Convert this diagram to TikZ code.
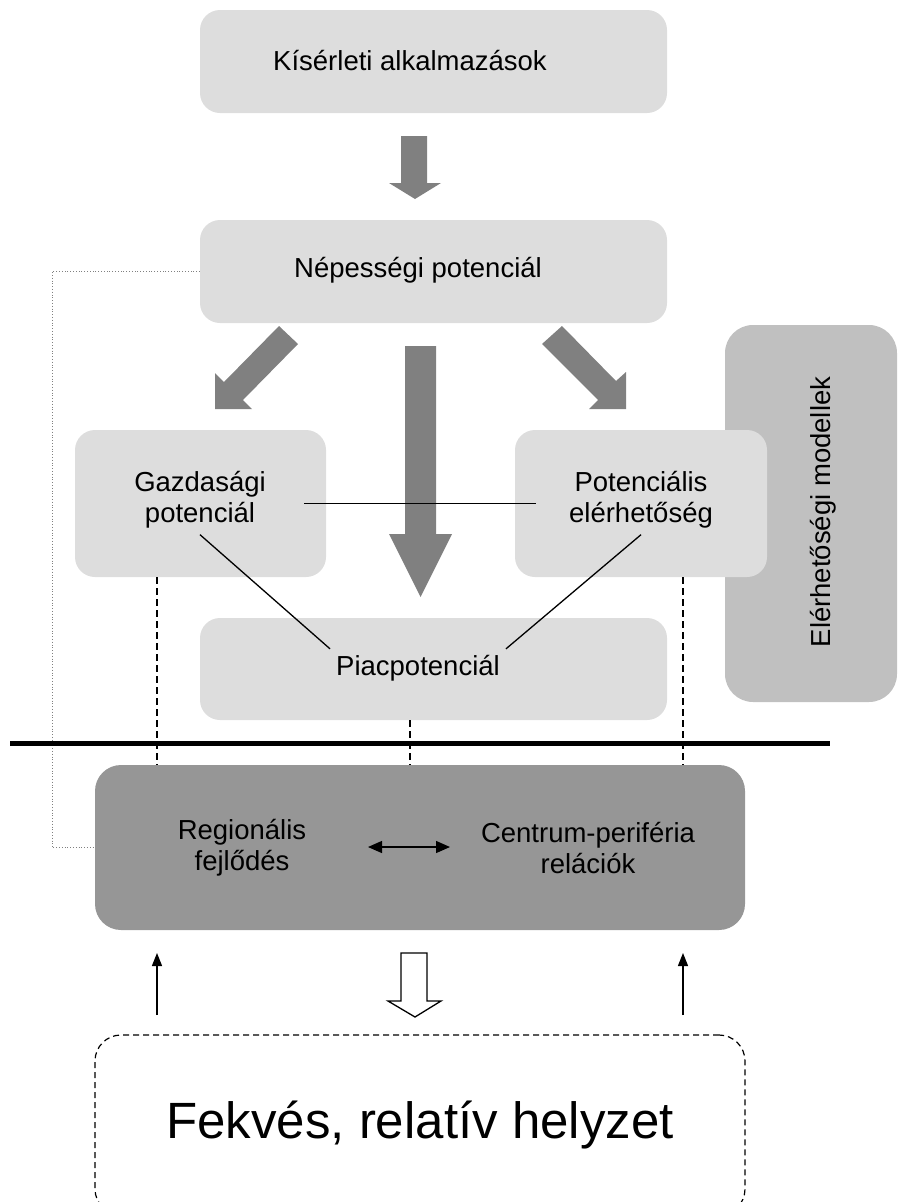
\documentclass[tikz,border=0pt]{standalone}
\usepackage{fontspec}
\setmainfont{Liberation Sans}
\usetikzlibrary{arrows.meta}

\definecolor{boxgray}{HTML}{DDDDDD}
\definecolor{sidegray}{HTML}{C0C0C0}
\definecolor{regiongray}{HTML}{969696}
\definecolor{arrowgray}{HTML}{808080}

\begin{document}
\begin{tikzpicture}[x=1pt,y=-1pt]
    % Node styles
    \tikzset{
        light box/.style={rectangle,rounded corners=20pt,fill=boxgray,inner sep=0pt},
        side box/.style={rectangle,rounded corners=28pt,fill=sidegray,inner sep=0pt},
        region box/.style={rectangle,rounded corners=26pt,fill=regiongray,inner sep=0pt},
        label text/.style={align=center,inner sep=6pt,font=\fontsize{27.5}{31}\selectfont},
        block arrow/.style={fill=arrowgray},
        thin link/.style={line width=1.3pt},
        drop line/.style={line width=1.3pt,dash pattern=on 7pt off 4pt},
        up arrow/.style={line width=1.3pt,-{Triangle[length=13pt,width=10pt]}}
    }
    \useasboundingbox (0,0) rectangle (902,1202);

    % --- Side box: accessibility models ---
    \node[side box, minimum width=172pt, minimum height=377pt] (elrbox) at (811,513.5) {};
    \node[label text, rotate=90] (elr) at (823,512) {Elérhetőségi modellek};

    % --- Top row ---
    \node[light box, minimum width=467pt, minimum height=103pt] (kisbox) at (433.5,61.5) {};
    \node[label text] (kis) at (410,61) {Kísérleti alkalmazások};
    \node[light box, minimum width=467pt, minimum height=103pt] (nepbox) at (433.5,271.5) {};
    \node[label text] (nep) at (418,270) {Népességi potenciál};

    % --- Middle row ---
    \node[light box, minimum width=251pt, minimum height=147pt] (gazbox) at (200.5,503.5) {};
    \node[label text] (gaz) at (200,500) {Gazdasági\\potenciál};
    \node[light box, minimum width=252pt, minimum height=147pt] (potbox) at (641,503.5) {};
    \node[label text] (pot) at (641,500) {Potenciális\\elérhetőség};
    \node[light box, minimum width=467pt, minimum height=102pt] (piacbox) at (433.5,669) {};
    \node[label text] (piac) at (418,668) {Piacpotenciál};

    % --- Region box ---
    \node[region box, minimum width=650pt, minimum height=165pt] (regbox) at (420,847.5) {};
    \node[label text] (reg) at (242,848) {Regionális\\fejlődés};
    \node[label text] (cen) at (588,848) {Centrum-periféria\\relációk};

    % --- Bottom: location ---
    \node[rectangle, rounded corners=26pt, draw, line width=1.2pt, dash pattern=on 6pt off 4pt,
          minimum width=650pt, minimum height=180pt, inner sep=0pt] (fekbox) at (420,1125) {};
    \node[font=\fontsize{51}{57}\selectfont] (fek) at (420,1125) {Fekvés, relatív helyzet};

    % Block arrows
    \fill[block arrow] (401,136) -- (427,136) -- (427,183) -- (441,183) -- (415,199)
        -- (389,183) -- (401,183) -- cycle;
    \fill[block arrow] (405,346) -- (436,346) -- (436,534) -- (452,534) -- (420.5,597)
        -- (389,534) -- (405,534) -- cycle;
    \fill[block arrow] (279,326) -- (298,344) -- (243,400) -- (252,409) -- (215,409)
        -- (215,373) -- (224,382) -- cycle;
    \fill[block arrow] (562,326) -- (616,381) -- (626,372) -- (626,409) -- (589,409)
        -- (598,400) -- (542,344) -- cycle;
    \draw[line width=1.3pt, fill=white, miter limit=10] (401,953) -- (427,953) -- (427,1001)
        -- (441,1001) -- (415,1017) -- (388,1001) -- (401,1001) -- cycle;

    % Links between the potentials
    \draw[thin link] ([xshift=-22pt]gazbox.east) -- ([xshift=21pt]potbox.west);
    \draw[thin link] (gaz.south) -- (piac.north west);
    \draw[thin link] (pot.south) -- (piac.north east);

    % Dotted feedback line
    \coordinate (leftrail) at (52,0);
    \draw[gray, line width=0.8pt, dotted] (nepbox.west) -- (nepbox.west -| leftrail) |- (regbox.west);

    % Dividing line
    \coordinate (divl) at (10,743);
    \coordinate (divr) at (830,743);
    \draw[line width=5pt] (divl) -- (divr);

    % Dashed drops to the region box
    \coordinate (gazdrop) at ([xshift=-43.5pt]gazbox.south);
    \coordinate (piacdrop) at ([xshift=-23.5pt]piacbox.south);
    \coordinate (potdrop) at ([xshift=42pt]potbox.south);
    \draw[drop line] (gazdrop) -- (gazdrop |- regbox.north);
    \draw[drop line] (piacdrop) -- (piacdrop |- regbox.north);
    \draw[drop line] (potdrop) -- (potdrop |- regbox.north);

    % Arrows inside and below the region box
    \coordinate (dbll) at (368,847);
    \coordinate (dblr) at (450,847);
    \draw[line width=1.3pt, {Triangle[length=14pt,width=12pt]}-{Triangle[length=14pt,width=12pt]}]
        (dbll) -- (dblr);
    \coordinate (upl) at (157,1015);
    \coordinate (upr) at (683,1015);
    \draw[up arrow] (upl) -- ++(0,-62);
    \draw[up arrow] (upr) -- ++(0,-62);
\end{tikzpicture}
\end{document}
